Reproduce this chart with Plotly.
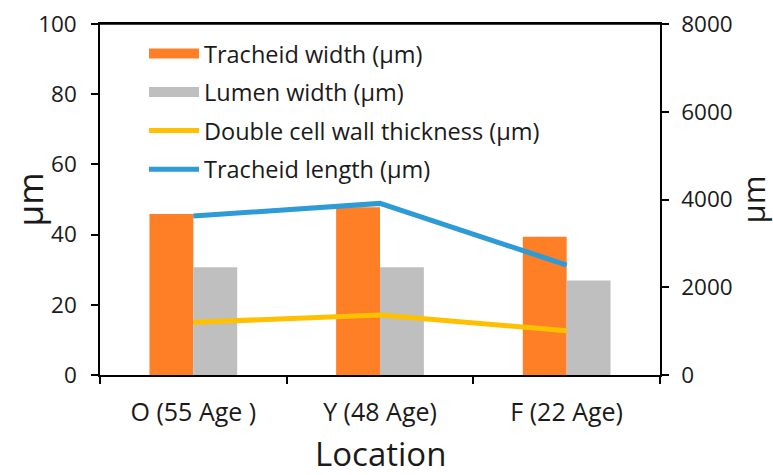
import plotly.graph_objects as go

locations = ["O (55 Age )", "Y (48 Age)", "F (22 Age)"]
tracheid_width = [45.9, 47.8, 39.4]
lumen_width = [30.7, 30.7, 26.9]
wall_thickness = [15.0, 17.1, 12.6]
tracheid_length = [3624, 3911, 2507]

FONT = "Open Sans"
TXT = "#1a1a1a"
ORANGE, GRAY, YELLOW, BLUE = "#FF7F27", "#BFBFBF", "#FFC000", "#2E9AD6"

fig = go.Figure()
fig.add_bar(x=locations, y=tracheid_width, name="Tracheid width (µm)",
            marker=dict(color=ORANGE, line=dict(width=0)), showlegend=False)
fig.add_bar(x=locations, y=lumen_width, name="Lumen width (µm)",
            marker=dict(color=GRAY, line=dict(width=0)), showlegend=False)
fig.add_scatter(x=locations, y=wall_thickness, mode="lines",
                name="Double cell wall thickness (µm)",
                line=dict(color=YELLOW, width=5), legendgroup="c", legendrank=3)
fig.add_scatter(x=locations, y=tracheid_length, mode="lines",
                name="Tracheid length (µm)",
                line=dict(color=BLUE, width=5), yaxis="y2", legendgroup="d", legendrank=4)
# legend keys for the bars (wide rectangular swatches like the original)
fig.add_scatter(x=[None], y=[None], mode="lines", name="Tracheid width (µm)",
                line=dict(color=ORANGE, width=16), legendgroup="a", legendrank=1,
                hoverinfo="skip")
fig.add_scatter(x=[None], y=[None], mode="lines", name="Lumen width (µm)",
                line=dict(color=GRAY, width=16), legendgroup="b", legendrank=2,
                hoverinfo="skip")

axis_common = dict(showline=True, linecolor="black", linewidth=1.5, ticks="outside",
                   ticklen=7, tickcolor="black", tickwidth=1.5, showgrid=False,
                   zeroline=False, automargin=False, ticklabeloverflow="allow")

fig.update_layout(
    width=773, height=475,
    margin=dict(l=100, r=113, t=24, b=100),
    paper_bgcolor="white", plot_bgcolor="white",
    font=dict(family=FONT, color=TXT),
    barmode="group", bargap=0.53, bargroupgap=0,
    xaxis=dict(**axis_common, tickson="boundaries", mirror=True,
               tickfont=dict(family=FONT, size=25, color=TXT), ticklabelstandoff=14),
    yaxis=dict(**axis_common, range=[0, 100], dtick=20,
               tickfont=dict(family=FONT, size=22.5, color=TXT), ticklabelstandoff=10),
    yaxis2=dict(**axis_common, range=[0, 8000], dtick=2000, overlaying="y", side="right",
                tickfont=dict(family=FONT, size=22.5, color=TXT), ticklabelstandoff=8),
    legend=dict(x=0.0786, y=0.978, xanchor="left", yanchor="top", bgcolor="rgba(0,0,0,0)",
                font=dict(family=FONT, size=23.5, color=TXT), itemwidth=50,
                tracegroupgap=5, traceorder="grouped"),
    shapes=[dict(type="line", xref="paper", yref="paper", x0=-0.0125, x1=1.0125, y0=1, y1=1,
                 line=dict(color="black", width=1.5), layer="above")],
    annotations=[
        dict(text="Location", xref="paper", yref="paper", x=0.5, y=0, xanchor="center",
             yanchor="middle", yshift=-78, showarrow=False,
             font=dict(family=FONT, size=33, color=TXT)),
        dict(text="µm", xref="paper", yref="paper", x=0, y=0.5, xanchor="center",
             yanchor="middle", xshift=-71, textangle=-90, showarrow=False,
             font=dict(family=FONT, size=35, color=TXT)),
        dict(text="µm", xref="paper", yref="paper", x=1, y=0.5, xanchor="center",
             yanchor="middle", xshift=92, textangle=-90, showarrow=False,
             font=dict(family=FONT, size=31, color=TXT)),
    ],
    showlegend=True,
)

fig.write_html("out.html", config={"displayModeBar": False},
               post_script="document.body.style.margin='0';")
